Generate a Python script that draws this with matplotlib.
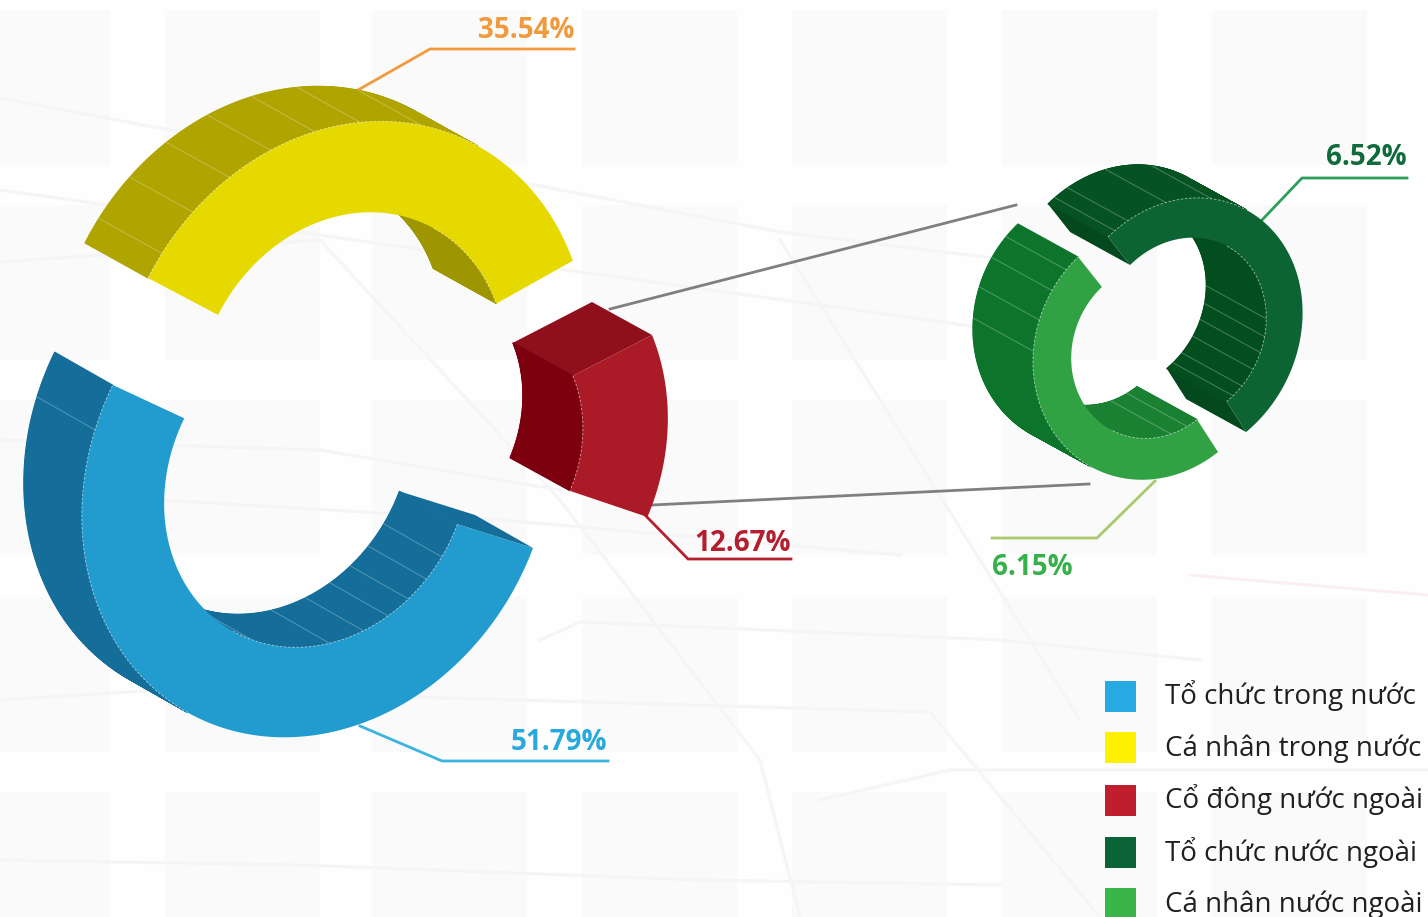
import numpy as np
import matplotlib
matplotlib.use('Agg')
import matplotlib.pyplot as plt
from matplotlib.collections import PolyCollection
from matplotlib.patches import Polygon, Rectangle

# share of each group, percent
groups = ['Tổ chức trong nước', 'Cá nhân trong nước', 'Cổ đông nước ngoài',
          'Tổ chức nước ngoài', 'Cá nhân nước ngoài']
shares = [51.79, 35.54, 12.67, 6.52, 6.15]
share_labels = ['51.79%', '35.54%', '12.67%', '6.52%', '6.15%']
legend_colors = ['#27AAE1', '#FFF200', '#BE1E2D', '#0B6437', '#39B54A']
label_colors = ['#27A9DE', '#F09A3E', '#B2202F', '#0F6B3C', '#35B04A']
leader_colors = ['#3BB4E0', '#F29A3D', '#B5202E', '#2E9E5B', '#A9C96B']

# the two small rings split the foreign slice, the others split the whole ring
spans = [shares[0] / 100 * 360, shares[1] / 100 * 360, shares[2] / 100 * 360,
         shares[3] / shares[2] * 360, shares[4] / shares[2] * 360]

# projection of each ring on the page: centre, two axis vectors, hole ratio
centers = [(317, 480.2), (351, 385), (437, 446), (1181.6, 330.4), (1152.5, 350.6)]
axis_a = [(216, 67.8), (-203, -107), (215, -111), (-73.6, -93.4), (65.5, 101.4)]
axis_b = [(-93, 248), (123, -241), (84, 208), (96, -94), (-100, 80)]
holes = [0.65, 0.655, 0.632, 0.70, 0.68]
depths = [(-58, -33), (-63, -35), (-60, -33), (-60, -33), (-60, -33)]

face_colors = ['#229BCE', '#E6D900', '#AB1A27', '#0B6431', '#31A244']
outer_colors = ['#146E99', '#B0A400', '#8F101C', '#055222', '#0C752B']
inner_colors = ['#146E99', '#9E9600', '#7D000F', '#034E1E', '#1A8032']
cap_colors = ['#146E99', '#B0A400', '#8F101C', '#04491E', '#0C752B']

# which way each wall shows, degrees along the ring (tangent to the depth line)
outer_seams = [(100, 186.4), (0, 91), (0, 0), (0, 70), (64, 174.7)]
inner_seams = [(0, 100), (91, 127.9), (0, 45.6), (70, 185.3), (0, 64)]
# end caps that are not edge on: 0 start, 1 end of the slice
open_caps = [[0], [], [0], [0, 1], []]

# pale ruling on the walls
outer_rules = [[176], [6, 17, 28, 39, 50, 61, 76], [],
               [4, 11, 30, 52], [128, 142, 156, 167]]
inner_rules = [[12, 21, 30, 39, 49, 62, 92], [], [], [128, 139, 149, 160, 172, 180], [8, 20]]

# leader lines and label anchors
leaders = [[(360, 726), (442, 761), (608, 761)],
           [(358, 90), (430, 49), (574, 49)],
           [(645, 515), (688, 559), (791, 559)],
           [(1262, 220), (1302, 178), (1407, 178)],
           [(1155, 481), (1097, 538), (992, 538)]]
label_pos = [(607, 750), (574, 38), (791, 551), (1407, 165), (992, 575)]
links = [[(610, 309), (1016, 205)], [(652, 505), (1089, 484)]]

legend_y = [696, 747, 800, 852, 903]
legend_base = [704, 756, 808, 861, 912]

# background pattern
tile_x = [-45, 165, 372, 582, 792, 1002, 1212]
tile_y = [10, 205, 400, 597, 792]
bg_lines = [[(0, 98), (170, 130), (430, 165), (780, 232), (1010, 260)],
            [(0, 190), (180, 215), (530, 265), (1000, 330)],
            [(0, 262), (320, 240), (560, 500), (760, 760), (800, 917)],
            [(0, 440), (320, 450), (560, 490)],
            [(160, 500), (500, 520), (900, 555)],
            [(0, 700), (160, 690), (520, 700), (930, 712), (1100, 917)],
            [(540, 640), (580, 622), (1000, 640), (1200, 660)],
            [(820, 800), (950, 770), (1428, 770)],
            [(0, 860), (300, 865), (700, 880), (1000, 885)],
            [(780, 240), (1080, 720)],
            [(1190, 575), (1428, 595)]]


def ring_point(i, radius, theta):
    t = np.radians(theta)
    x = centers[i][0] + radius * (np.cos(t) * axis_a[i][0] + np.sin(t) * axis_b[i][0])
    y = centers[i][1] + radius * (np.cos(t) * axis_a[i][1] + np.sin(t) * axis_b[i][1])
    return np.column_stack([x, y])


def wall(i, radius, t0, t1):
    # small quads so the sweep keeps its straight tangent edges
    front = ring_point(i, radius, np.linspace(t0, t1, 160))
    back = front + np.array(depths[i])
    return [np.array([front[j], front[j + 1], back[j + 1], back[j]]) for j in range(len(front) - 1)]


def add_wall(i, radius, seam, color, z):
    if seam[1] > seam[0]:
        ax.add_collection(PolyCollection(wall(i, radius, seam[0], seam[1]), facecolors=color,
                                         edgecolors=color, linewidths=0.8, zorder=z))


def add_rules(i, radius, rules, z):
    for t in rules:
        p = ring_point(i, radius, t)[0]
        ax.plot([p[0], p[0] + depths[i][0]], [p[1], p[1] + depths[i][1]],
                color='white', alpha=0.28, lw=0.7, zorder=z)


def add_seam(i, radius, seam, z):
    if seam[1] > seam[0]:
        pts = ring_point(i, radius, np.linspace(seam[0], seam[1], 100))
        ax.plot(pts[:, 0], pts[:, 1], color='white', alpha=0.6, lw=0.6, ls=(0, (3, 2)), zorder=z)


fig = plt.figure(figsize=(14.28, 9.17), dpi=100, facecolor='#FEFEFE')
ax = fig.add_axes([0, 0, 1, 1])
ax.set_xlim(0, 1428)
ax.set_ylim(917, 0)
ax.axis('off')

for x in tile_x:
    for y in tile_y:
        ax.add_patch(Rectangle((x, y), 155, 155, fc='#FAFAFB', ec='none', zorder=0))
for line in bg_lines:
    xy = np.array(line)
    col = '#FBEFF0' if line[0][0] == 1190 else '#F5F5F7'
    ax.plot(xy[:, 0], xy[:, 1], color=col, lw=2.2, zorder=1)

for i in range(len(spans)):
    z = 10 + i
    span = spans[i]
    k = holes[i]
    # walls back to front, the face goes over whatever it hides
    add_wall(i, 1, outer_seams[i], outer_colors[i], z)
    add_rules(i, 1, outer_rules[i], z)
    for c in open_caps[i]:
        t = c * span
        pts = np.vstack([ring_point(i, 1, t), ring_point(i, k, t)])
        cap = np.vstack([pts, pts[::-1] + np.array(depths[i])])
        ax.add_patch(Polygon(cap, fc=cap_colors[i], ec='none', zorder=z))
    add_wall(i, k, inner_seams[i], inner_colors[i], z)
    add_rules(i, k, inner_rules[i], z)

    t = np.linspace(0, span, 200)
    face = np.vstack([ring_point(i, 1, t), ring_point(i, k, t[::-1])])
    ax.add_patch(Polygon(face, fc=face_colors[i], ec='none', zorder=z))

    # dashed seam where the face meets a wall
    add_seam(i, 1, outer_seams[i], z)
    add_seam(i, k, inner_seams[i], z)

for line in links:
    xy = np.array(line)
    ax.plot(xy[:, 0], xy[:, 1], color='#7F7F7F', lw=2, zorder=5)

for i in range(len(leaders)):
    xy = np.array(leaders[i])
    ax.plot(xy[:, 0], xy[:, 1], color=leader_colors[i], lw=2, zorder=6,
            solid_joinstyle='miter')
    ha = 'left' if i == 4 else 'right'
    ax.text(label_pos[i][0], label_pos[i][1], share_labels[i], color=label_colors[i],
            fontsize=20, fontweight='bold', family='Open Sans', ha=ha, va='baseline', zorder=30)

for i in range(len(groups)):
    ax.add_patch(Rectangle((1105, legend_y[i] - 15.5), 31, 31, fc=legend_colors[i], ec='none', zorder=20))
    ax.text(1165, legend_base[i], groups[i], color='#231F20', fontsize=20,
            family='Open Sans', ha='left', va='baseline', zorder=30)

fig.savefig('out.png', dpi=100, facecolor=fig.get_facecolor())
